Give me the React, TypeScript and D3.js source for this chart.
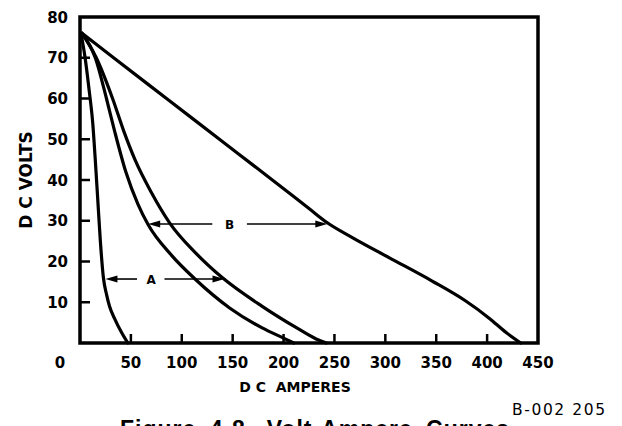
import React, { useEffect, useRef } from "react";
import * as d3 from "d3";

// Volt-ampere curves (amps, volts)
const curveSteepAmps = [1, 5, 9, 12.5, 15, 17.5, 20, 23, 26, 29, 34, 41, 47];
const curveSteepVolts = [76, 70, 62, 54, 45, 35, 25, 16, 12, 9, 6, 2.5, 0];

const curveInnerAmps = [2, 15, 26, 34, 45, 57, 67, 90, 113, 147, 179, 200, 210];
const curveInnerVolts = [76, 70, 60, 52, 42, 34, 29, 21.5, 15.7, 8.6, 3.7, 1.2, 0];

const curveOuterAmps = [2, 16, 32, 43, 54, 70, 88, 114, 140, 179, 213, 232, 242];
const curveOuterVolts = [76, 70, 60, 52, 45, 37, 29.5, 22, 16, 9, 3.7, 1, 0];

const curveWideAmps = [2, 33, 85, 137, 189, 225, 243, 268, 304, 346, 379, 402, 419, 433];
const curveWideVolts = [76, 70, 60, 50, 40, 33, 29.5, 25.8, 20.9, 15.2, 10.3, 6.1, 2.5, 0];

const xTicks = [50, 100, 150, 200, 250, 300, 350, 400, 450];
const yTicks = [10, 20, 30, 40, 50, 60, 70, 80];

// range arrows: label, volts, left tip, left line end, label pos, right line start, right tip
const arrowLabels = ["A", "B"];
const arrowVolts = [15.7, 29.2];
const arrowLeftTip = [25, 67];
const arrowLeftEnd = [56, 130];
const arrowLabelAmps = [70, 147];
const arrowRightStart = [83, 164];
const arrowRightTip = [142, 243];

const App = () => {
  const svgRef = useRef<SVGSVGElement>(null);

  useEffect(() => {
    const svg = d3.select(svgRef.current);
    svg.selectAll("*").remove();

    const left = 80;
    const right = 538;
    const top = 17;
    const bottom = 343;

    const x = d3.scaleLinear().domain([0, 450]).range([left, right]);
    const y = d3.scaleLinear().domain([0, 80]).range([bottom, top]);

    const boldFont = "'DejaVu Sans', sans-serif";

    // frame
    svg
      .append("rect")
      .attr("x", x(0))
      .attr("y", y(80))
      .attr("width", x(450) - x(0))
      .attr("height", y(0) - y(80))
      .attr("fill", "none")
      .attr("stroke", "#000")
      .attr("stroke-width", 3.5);

    // y ticks (inside) + labels
    svg
      .selectAll(".ytick")
      .data(yTicks.filter((d) => d < 80))
      .enter()
      .append("line")
      .attr("x1", x(0))
      .attr("x2", x(0) + 10)
      .attr("y1", (d) => y(d))
      .attr("y2", (d) => y(d))
      .attr("stroke", "#000")
      .attr("stroke-width", 2.5);

    svg
      .selectAll(".ylabel")
      .data(yTicks)
      .enter()
      .append("text")
      .attr("x", x(0) - 12)
      .attr("y", (d) => y(d) + 5.5)
      .attr("text-anchor", "end")
      .attr("font-family", boldFont)
      .attr("font-weight", "bold")
      .attr("font-size", 15)
      .text((d) => d);

    // x ticks (inside) + labels
    svg
      .selectAll(".xtick")
      .data(xTicks.filter((d) => d < 450))
      .enter()
      .append("line")
      .attr("x1", (d) => x(d))
      .attr("x2", (d) => x(d))
      .attr("y1", y(0))
      .attr("y2", y(0) - 9)
      .attr("stroke", "#000")
      .attr("stroke-width", 2.5);

    svg
      .selectAll(".xlabel")
      .data(xTicks)
      .enter()
      .append("text")
      .attr("x", (d) => x(d))
      .attr("y", y(0) + 25)
      .attr("text-anchor", "middle")
      .attr("font-family", boldFont)
      .attr("font-weight", "bold")
      .attr("font-size", 15)
      .text((d) => d);

    // the "0" sits out at the corner
    svg
      .append("text")
      .attr("x", x(0) - 20)
      .attr("y", y(0) + 25)
      .attr("text-anchor", "middle")
      .attr("font-family", boldFont)
      .attr("font-weight", "bold")
      .attr("font-size", 15)
      .text("0");

    // curves
    const line = d3
      .line<[number, number]>()
      .x((d) => x(d[0]))
      .y((d) => y(d[1]))
      .curve(d3.curveMonotoneX);

    const curves = [
      d3.zip(curveSteepAmps, curveSteepVolts),
      d3.zip(curveInnerAmps, curveInnerVolts),
      d3.zip(curveOuterAmps, curveOuterVolts),
      d3.zip(curveWideAmps, curveWideVolts),
    ] as [number, number][][];

    svg
      .selectAll(".curve")
      .data(curves)
      .enter()
      .append("path")
      .attr("d", (d) => line(d))
      .attr("fill", "none")
      .attr("stroke", "#000")
      .attr("stroke-width", 3.2)
      .attr("stroke-linejoin", "round")
      .attr("stroke-linecap", "round");

    // range arrows A and B
    arrowLabels.forEach((label, i) => {
      const yy = y(arrowVolts[i]);
      const g = svg.append("g");
      g.append("line")
        .attr("x1", x(arrowLeftTip[i]) + 8)
        .attr("x2", x(arrowLeftEnd[i]))
        .attr("y1", yy)
        .attr("y2", yy)
        .attr("stroke", "#000")
        .attr("stroke-width", 1.6);
      g.append("line")
        .attr("x1", x(arrowRightStart[i]))
        .attr("x2", x(arrowRightTip[i]) - 8)
        .attr("y1", yy)
        .attr("y2", yy)
        .attr("stroke", "#000")
        .attr("stroke-width", 1.6);
      const lt = x(arrowLeftTip[i]);
      const rt = x(arrowRightTip[i]);
      g.append("path")
        .attr("d", `M${lt},${yy} L${lt + 12},${yy - 3.5} L${lt + 12},${yy + 3.5} Z`)
        .attr("fill", "#000");
      g.append("path")
        .attr("d", `M${rt},${yy} L${rt - 12},${yy - 3.5} L${rt - 12},${yy + 3.5} Z`)
        .attr("fill", "#000");
      g.append("text")
        .attr("x", x(arrowLabelAmps[i]))
        .attr("y", yy + 4.5)
        .attr("text-anchor", "middle")
        .attr("font-family", boldFont)
        .attr("font-weight", "bold")
        .attr("font-size", 12)
        .text(label);
    });

    // axis titles
    svg
      .append("text")
      .attr("transform", `translate(32, ${(top + bottom) / 2}) rotate(-90)`)
      .attr("text-anchor", "middle")
      .attr("font-family", boldFont)
      .attr("font-weight", "bold")
      .attr("font-size", 17)
      .text("D C VOLTS");

    svg
      .append("text")
      .attr("x", 295)
      .attr("y", 392)
      .attr("text-anchor", "middle")
      .attr("font-family", boldFont)
      .attr("font-weight", "bold")
      .attr("font-size", 14)
      .style("white-space", "pre")
      .text("D C  AMPERES");

    svg
      .append("text")
      .attr("x", 512)
      .attr("y", 415)
      .attr("font-family", "'DejaVu Sans', sans-serif")
      .attr("font-size", 15.5)
      .attr("letter-spacing", 1.6)
      .text("B-002 205");

    // figure caption, clipped by the bottom edge as in the scan
    svg
      .append("text")
      .attr("x", 120)
      .attr("y", 437)
      .attr("font-family", "'Liberation Sans', Arial, sans-serif")
      .attr("font-weight", "bold")
      .attr("font-size", 23)
      .attr("letter-spacing", 1)
      .attr("word-spacing", 6)
      .text("Figure 4-8. Volt-Ampere Curves");
  }, []);

  return (
    <svg
      ref={svgRef}
      width={622}
      height={426}
      style={{ position: "absolute", left: 0, top: 0, background: "#fff" }}
    />
  );
};

export default App;
